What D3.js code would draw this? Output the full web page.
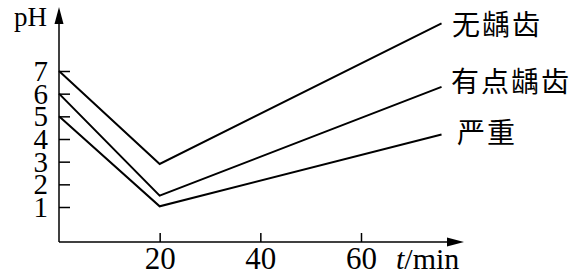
<!DOCTYPE html>
<html>
<head>
<meta charset="utf-8">
<script src="https://cdn.jsdelivr.net/npm/d3@7"></script>
<style>
  body { margin: 0; background: #fff; }
  svg { display: block; }
  svg text.serif { font-family: 'Liberation Serif', 'DejaVu Serif', serif; }
  svg text.cjk { font-family: 'Noto Sans CJK SC', sans-serif; }
</style>
</head>
<body>
<svg id="chart" width="576" height="270"></svg>
<script>
// дані графіка
const times = [0, 20, 76];
const noCaries = [7, 2.9, 9.1];
const someCaries = [6, 1.5, 6.3];
const severe = [5, 1.03, 4.2];
const seriesNames = ['无龋齿', '有点龋齿', '严重'];
const yTicks = [1, 2, 3, 4, 5, 6, 7];
const xTicks = [20, 40, 60];

const svg = d3.select('#chart');

const x = d3.scaleLinear().domain([0, 60]).range([59, 361]);
const y = d3.scaleLinear().domain([1, 7]).range([207, 71]);
const x0 = 59, y0 = 242;

// осі
svg.append('line').attr('x1', x0).attr('x2', x0).attr('y1', y0).attr('y2', 20)
  .style('stroke', '#000').style('stroke-width', 1.5);
svg.append('path').attr('d', `M${x0},7 L${x0 - 4.5},24 L${x0 + 4.5},24 Z`).style('fill', '#000');
svg.append('line').attr('x1', x0).attr('x2', 452).attr('y1', y0).attr('y2', y0)
  .style('stroke', '#000').style('stroke-width', 1.5);
svg.append('path').attr('d', `M464,${y0} L447,${y0 - 4.5} L447,${y0 + 4.5} Z`).style('fill', '#000');

const gy = svg.append('g').attr('transform', `translate(${x0},0)`)
  .call(d3.axisLeft(y).tickValues(yTicks).tickFormat(d3.format('d'))
    .tickSizeInner(-11).tickSizeOuter(0).tickPadding(11));
gy.attr('font-family', null).attr('font-size', null);
gy.select('.domain').remove();
gy.selectAll('.tick line').style('stroke', '#000').style('stroke-width', 1.5);
gy.selectAll('.tick text').attr('class', 'serif').style('font-size', '29px').attr('dy', '0.33em');

const gx = svg.append('g').attr('transform', `translate(0,${y0})`)
  .call(d3.axisBottom(x).tickValues(xTicks).tickFormat(d3.format('d'))
    .tickSizeInner(-9).tickSizeOuter(0));
gx.attr('font-family', null).attr('font-size', null);
gx.select('.domain').remove();
gx.selectAll('.tick line').style('stroke', '#000').style('stroke-width', 1.5);
gx.selectAll('.tick text').attr('class', 'serif').style('font-size', '31px')
  .attr('y', 27).attr('dy', 0);

svg.append('text').attr('class', 'serif').attr('x', 14).attr('y', 26)
  .style('font-size', '27px').text('pH');

const xl = svg.append('text').attr('class', 'serif').attr('x', 396).attr('y', 269)
  .style('font-size', '30px');
xl.append('tspan').style('font-style', 'italic').text('t');
xl.append('tspan').text('/min');

// лінії
const line = d3.line().x((d, i) => x(times[i])).y(d => y(d));
[noCaries, someCaries, severe].forEach(s => {
  svg.append('path').attr('d', line(s))
    .style('fill', 'none').style('stroke', '#000').style('stroke-width', 2);
});

const labelPos = [[452, 35], [451, 92], [457, 143]];
seriesNames.forEach((n, i) => {
  svg.append('text').attr('class', 'cjk').attr('x', labelPos[i][0]).attr('y', labelPos[i][1])
    .style('font-size', '28px').style('letter-spacing', '2px').text(n);
});
</script>
</body>
</html>
